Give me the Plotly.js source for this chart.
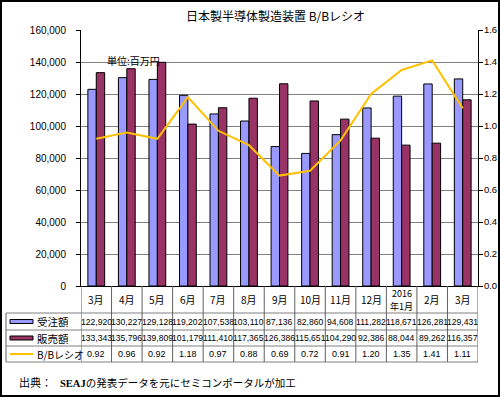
<!DOCTYPE html>
<html>
<head>
<meta charset="utf-8">
<script src="https://cdn.plot.ly/plotly-3.0.1.min.js"></script>
<style>
html,body{margin:0;padding:0;background:#fff;}
#wrap{position:relative;width:500px;height:397px;}
#chart{width:500px;height:397px;}
#frame{position:absolute;left:0;top:0;width:500px;height:397px;box-sizing:border-box;border:2px solid #000;pointer-events:none;}
</style>
</head>
<body>
<div id="wrap"><div id="chart"></div><div id="frame"></div></div>
<script>
// ---- data ----
const categories = ["3月","4月","5月","6月","7月","8月","9月","10月","11月","12月","2016<br>年1月","2月","3月"];
const orders = [122920,130227,129128,119202,107538,103110,87136,82860,94608,111282,118671,126281,129431];
const sales  = [133343,135796,139809,101179,111410,117365,126386,115651,104290,92386,88044,89262,116357];
const bbRatio = [0.92,0.96,0.92,1.18,0.97,0.88,0.69,0.72,0.91,1.20,1.35,1.41,1.11];
const seriesNames = ["受注額","販売額","B/Bレシオ"];
</script>
<script>
const n = categories.length;
const xs = categories.map((c,i)=>i);
const FONT = "Liberation Sans, Arial, sans-serif";
const JP = "Noto Sans CJK JP, sans-serif";
const W = 500, H = 397, L = 81, R = 22, T = 30, B = 111;
const PW = W - L - R, PH = H - T - B;
const px = X => (X - L) / PW;          // pixel -> paper x
const py = Y => (H - B - Y) / PH;      // pixel -> paper y
const BLUE = "#9999FF", RED = "#993366", GOLD = "#FFC000", GRID = "#808080";

const traces = [
  {type:"bar", x:xs, y:orders, name:seriesNames[0], marker:{color:BLUE, line:{color:"#000", width:1}}, hoverinfo:"skip"},
  {type:"bar", x:xs, y:sales, name:seriesNames[1], marker:{color:RED, line:{color:"#000", width:1}}, hoverinfo:"skip"},
  {type:"scatter", mode:"lines", x:xs, y:bbRatio, yaxis:"y2", name:seriesNames[2], line:{color:GOLD, width:2}, hoverinfo:"skip"}
];

const shapes = [];
const annotations = [];
const rowLinesY = [313, 330, 346, 362];
rowLinesY.forEach(Y => shapes.push({type:"line", xref:"paper", yref:"paper", x0:px(6), x1:1, y0:py(Y), y1:py(Y), line:{color:"#808080", width:1}}));
for (let i = 0; i <= n; i++) {
  shapes.push({type:"line", xref:"x", yref:"paper", x0:i-0.5, x1:i-0.5, y0:0, y1:py(362), line:{color:"#606060", width:1}});
}
shapes.push({type:"line", xref:"paper", yref:"paper", x0:px(6), x1:px(6), y0:py(313), y1:py(362), line:{color:"#606060", width:1}});
// legend keys
shapes.push({type:"rect", xref:"paper", yref:"paper", x0:px(10), x1:px(33), y0:py(319.5), y1:py(323.5), fillcolor:BLUE, line:{color:"#000", width:1}});
shapes.push({type:"rect", xref:"paper", yref:"paper", x0:px(10), x1:px(33), y0:py(336), y1:py(340), fillcolor:RED, line:{color:"#000", width:1}});
shapes.push({type:"line", xref:"paper", yref:"paper", x0:px(10), x1:px(33), y0:py(354), y1:py(354), line:{color:GOLD, width:2}});

// category row (multi-line labels split into separate lines)
categories.forEach((c,i) => {
  const parts = c.split("<br>");
  const lh = 13;
  parts.forEach((p,j) => {
    const Y = 299.5 + (j - (parts.length-1)/2) * lh;
    annotations.push({xref:"x", yref:"paper", x:i, y:py(Y), text:p, showarrow:false, xanchor:"center", yanchor:"middle", font:{family:JP, size:parts.length>1?9:10, color:"#000"}});
  });
});
// row labels
const rowCenters = [321.5, 338, 354];
seriesNames.forEach((s,k) => annotations.push({xref:"paper", yref:"paper", x:px(35), y:py(rowCenters[k]), text:s, showarrow:false, xanchor:"left", yanchor:"middle", font:{family:JP, size:k<2?10.5:10, color:"#000"}}));
// values
const fmt = v => v.toLocaleString("en-US");
const rows = [orders.map(fmt), sales.map(fmt), bbRatio.map(v => v.toFixed(2))];
rows.forEach((r,k) => r.forEach((t,i) => annotations.push({xref:"x", yref:"paper", x:i, y:py(rowCenters[k]), text:t, showarrow:false, xanchor:"center", yanchor:"middle", font:{family:FONT, size:k<2?8.6:9, color:"#000"}})));
// unit label
annotations.push({xref:"paper", yref:"paper", x:px(133), y:py(60), text:"単位:百万円", showarrow:false, xanchor:"center", yanchor:"middle", font:{family:JP, size:10, color:"#000"}});
// source
annotations.push({xref:"paper", yref:"paper", x:px(17), y:py(382), text:"出典：", showarrow:false, xanchor:"left", yanchor:"middle", font:{family:JP, size:11, color:"#000"}});
annotations.push({xref:"paper", yref:"paper", x:px(58), y:py(382), text:"<b><span style=\"font-family:Liberation Serif, serif\">SEAJ</span></b>の発表データを元にセミコンポータルが加工", showarrow:false, xanchor:"left", yanchor:"middle", font:{family:JP, size:10.5, color:"#000"}});

const layout = {
  width:W, height:H,
  margin:{l:L, r:R, t:T, b:B, pad:0},
  paper_bgcolor:"#fff", plot_bgcolor:"#fff",
  showlegend:false,
  barmode:"group", bargap:0.45, bargroupgap:0,
  title:{text:"日本製半導体製造装置 B/Bレシオ", font:{family:JP, size:12, color:"#000"}, x:0.49, xref:"paper", xanchor:"center", y:1-17/H, yanchor:"middle"},
  xaxis:{range:[-0.5, n-0.5], showticklabels:false, showgrid:false, zeroline:false, showline:true, linecolor:"#000", linewidth:1, ticks:"", fixedrange:true},
  yaxis:{range:[0,160000], dtick:20000, tickformat:",d", showgrid:true, gridcolor:GRID, gridwidth:1, zeroline:false, showline:true, linecolor:"#000", linewidth:1, ticks:"outside", ticklen:4, tickcolor:"#000", tickfont:{family:FONT, size:10, color:"#000"}, ticklabelstandoff:8},
  yaxis2:{range:[0,1.6], dtick:0.2, tickformat:".1f", overlaying:"y", side:"right", showgrid:false, zeroline:false, showline:true, linecolor:"#000", linewidth:1, ticks:"outside", ticklen:4, tickcolor:"#000", tickfont:{family:FONT, size:9.5, color:"#000"}, ticklabelstandoff:-1},
  shapes:shapes,
  annotations:annotations
};
Plotly.newPlot("chart", traces, layout, {staticPlot:true, displayModeBar:false});
</script>
</body>
</html>
